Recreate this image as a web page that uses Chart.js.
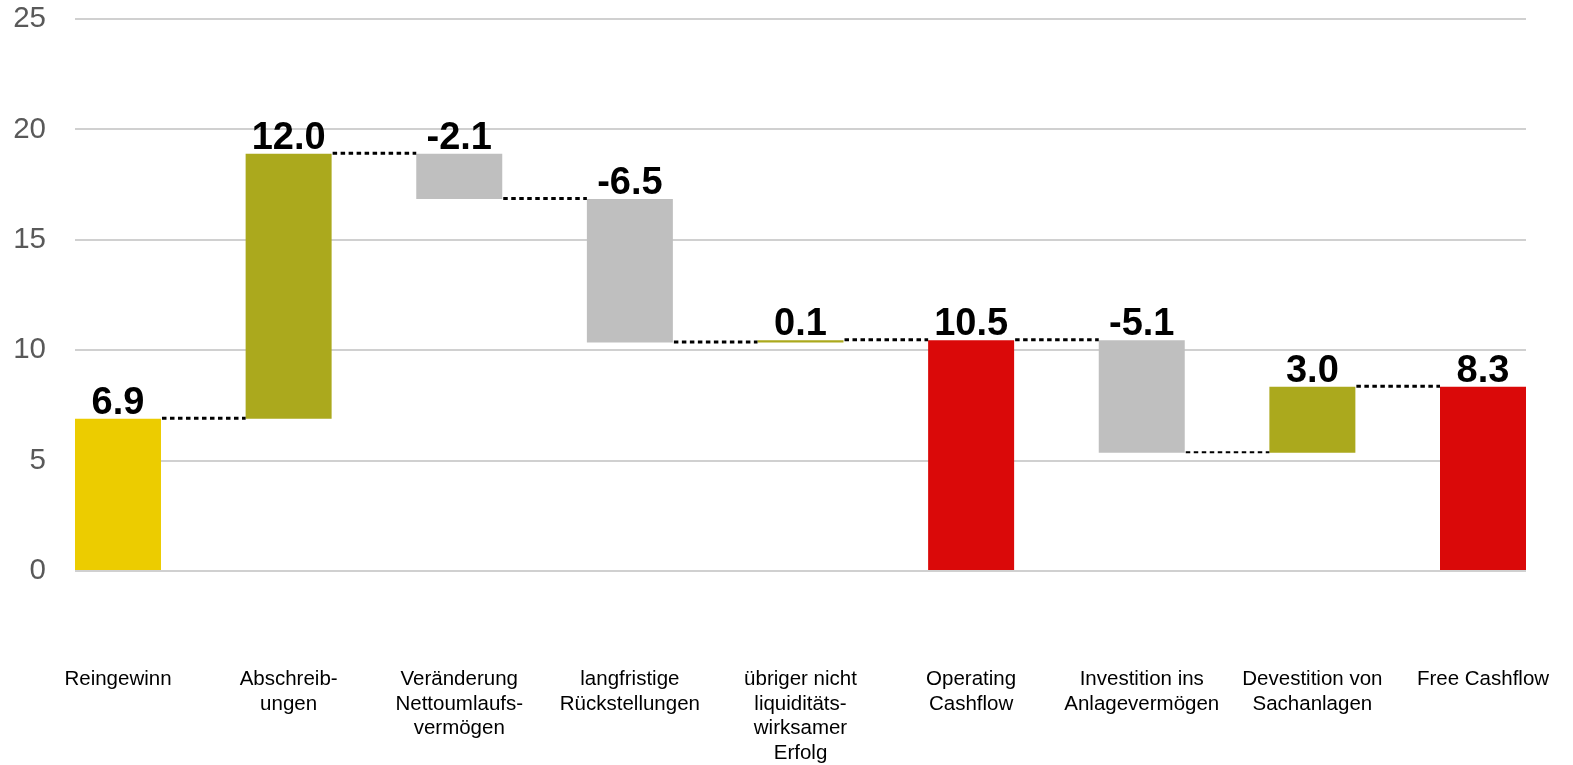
<!DOCTYPE html>
<html>
<head>
<meta charset="utf-8">
<script src="https://cdn.jsdelivr.net/npm/chart.js@4.4.1/dist/chart.umd.min.js"></script>
<style>
    html, body { margin: 0; padding: 0; background: #ffffff; }
    #wrap { width: 1573px; height: 765px; }
</style>
</head>
<body>
<div id="wrap"><canvas id="cashflowChart"></canvas></div>
<script>
// Cashflow waterfall, values

const categories = [
    ["Reingewinn"],
    ["Abschreib-", "ungen"],
    ["Veränderung", "Nettoumlaufs-", "vermögen"],
    ["langfristige", "Rückstellungen"],
    ["übriger nicht", "liquiditäts-", "wirksamer", "Erfolg"],
    ["Operating", "Cashflow"],
    ["Investition ins", "Anlagevermögen"],
    ["Devestition von", "Sachanlagen"],
    ["Free Cashflow"]
];

// where each floating bar starts and ends
const barStart = [0, 6.9, 18.9, 16.85, 10.35, 0, 10.45, 5.35, 0];
const barEnd = [6.9, 18.9, 16.85, 10.35, 10.45, 10.45, 5.35, 8.35, 8.35];

// printed numbers above the bars
const valueLabels = ["6.9", "12.0", "-2.1", "-6.5", "0.1", "10.5", "-5.1", "3.0", "8.3"];

const yTicks = [0, 5, 10, 15, 20, 25];

const barColors = [
    "#ECCC00", "#ABA91D", "#BFBFBF", "#BFBFBF", "#ABA91D",
    "#DA0909", "#BFBFBF", "#ABA91D", "#DA0909"
];

const fontFamily = "'Liberation Sans', Arial, sans-serif";


// dotted connectors + value labels

const waterfallExtras = {
    id: "waterfallExtras",
    afterDatasetsDraw(chart) {
        const ctx = chart.ctx;
        const yScale = chart.scales.y;
        const bars = chart.getDatasetMeta(0).data;

        ctx.save();
        ctx.strokeStyle = "#000000";
        for (let i = 0; i < bars.length - 1; i++) {
            const y = yScale.getPixelForValue(barEnd[i]) - 0.5;
            const x1 = bars[i].x + bars[i].width / 2;
            const x2 = bars[i + 1].x - bars[i + 1].width / 2;
            ctx.lineWidth = i === 6 ? 2 : 3;
            ctx.setLineDash([4.5, 3.5]);
            ctx.beginPath();
            ctx.moveTo(x1 + 1, y);
            ctx.lineTo(x2, y);
            ctx.stroke();
        }

        ctx.setLineDash([]);
        ctx.fillStyle = "#000000";
        ctx.font = "bold 38px " + fontFamily;
        ctx.textAlign = "center";
        ctx.textBaseline = "alphabetic";
        bars.forEach((bar, i) => {
            const top = yScale.getPixelForValue(Math.max(barStart[i], barEnd[i]));
            ctx.fillText(valueLabels[i], bar.x, top - 5);
        });
        ctx.restore();
    }
};


new Chart(document.getElementById("cashflowChart"), {

    type: "bar",

    data: {
        datasets: [{
            data: categories.map((c, i) => ({ x: i, y: [barStart[i], barEnd[i]] })),
            backgroundColor: barColors,
            borderWidth: 0,
            categoryPercentage: 1,
            barPercentage: 0.504
        }]
    },

    options: {
        responsive: true,
        maintainAspectRatio: false,
        animation: false,
        layout: { padding: { top: 19, right: 47, left: 0, bottom: 0 } },
        plugins: {
            legend: { display: false },
            tooltip: { enabled: false }
        },
        scales: {
            x: {
                type: "linear",
                offset: false,
                min: -0.252,
                max: 8.252,
                grid: { display: false, drawTicks: false, offset: false },
                border: { display: false },
                ticks: {
                    stepSize: 1,
                    includeBounds: false,
                    autoSkip: false,
                    maxRotation: 0,
                    minRotation: 0,
                    padding: 96,
                    color: "#000000",
                    font: { family: fontFamily, size: 20.5, lineHeight: 1.2 },
                    callback: (value) => categories[value]
                },
                afterFit: (scale) => {
                    scale.height = 194;
                    scale.paddingLeft = 0;
                    scale.paddingRight = 0;
                }
            },
            y: {
                min: 0,
                max: 25,
                afterBuildTicks: (scale) => {
                    scale.ticks = yTicks.map((v) => ({ value: v }));
                },
                grid: { color: "#d0d0d0", lineWidth: 2, drawTicks: false },
                border: { display: false },
                ticks: {
                    padding: 29,
                    color: "#595959",
                    font: { family: fontFamily, size: 29.5 }
                },
                afterFit: (scale) => {
                    scale.width = 75;
                    scale.paddingTop = 0;
                    scale.paddingBottom = 0;
                }
            }
        }
    },

    plugins: [waterfallExtras]

});
</script>
</body>
</html>
